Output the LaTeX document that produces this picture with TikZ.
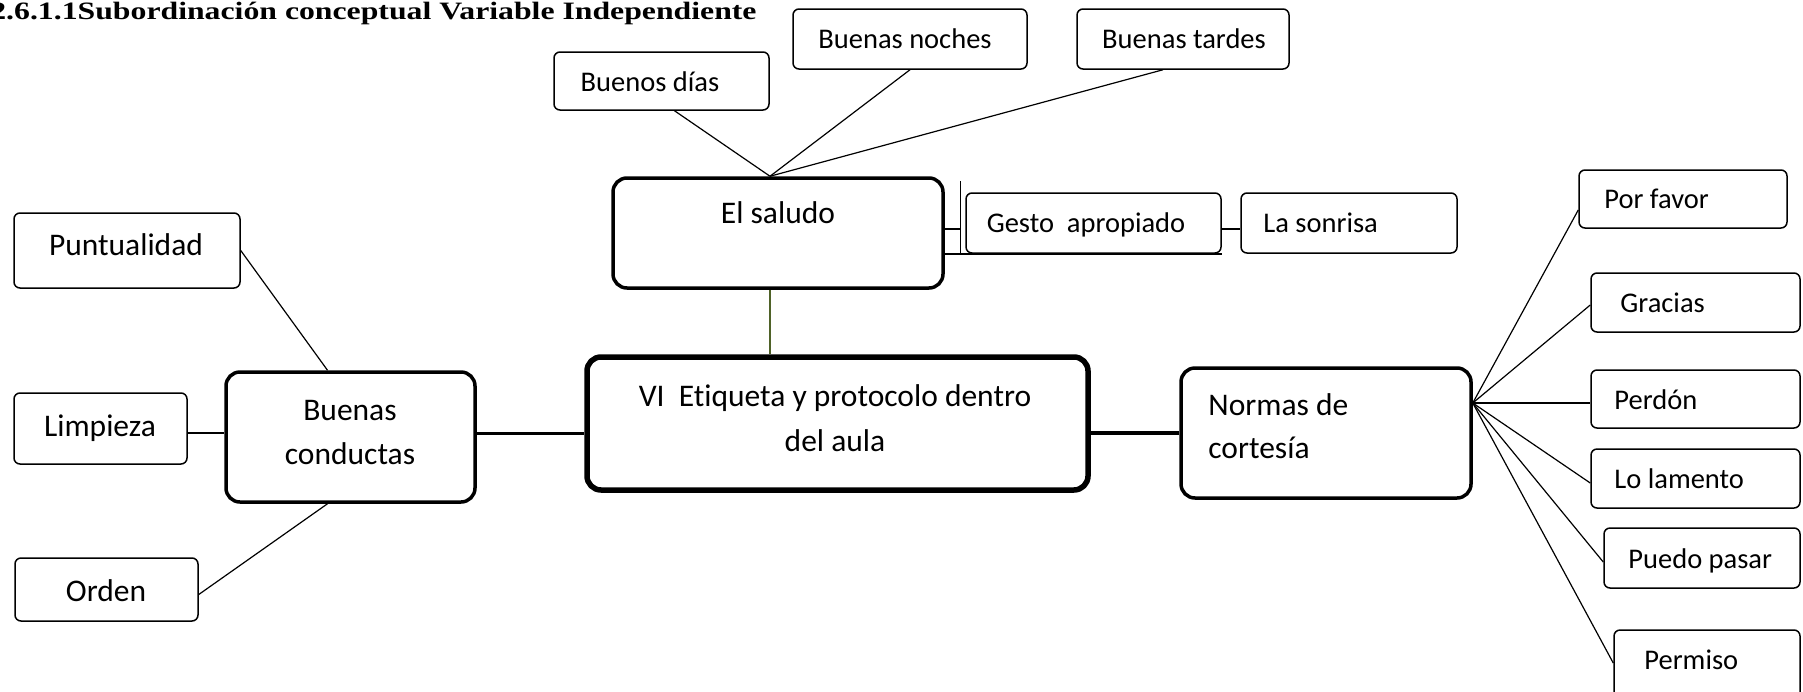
\documentclass[tikz,border=0pt]{standalone}
\usepackage{fontspec}
\usepackage{graphicx}
\setmainfont{Carlito}[RawFeature={-liga}]
\newfontfamily\titlefont{Liberation Serif}
\usetikzlibrary{calc}
\definecolor{olivegreen}{HTML}{4F6228}
\tikzset{
  thinbox/.style={draw=black, line width=0.75pt, rounded corners=3pt, fill=white, inner sep=0pt},
  thickbox/.style={draw=black, line width=1.75pt, rounded corners=7pt, fill=white, inner sep=0pt},
  mainbox/.style={draw=black, line width=2.75pt, rounded corners=7pt, fill=white, inner sep=0pt},
  lbl/.style={inner sep=0pt, anchor=base, font=\fontsize{15.75pt}{19pt}\selectfont},
  lblw/.style={inner sep=0pt, anchor=base west, font=\fontsize{15.75pt}{19pt}\selectfont},
  slbl/.style={inner sep=0pt, anchor=base, font=\fontsize{14.25pt}{17pt}\selectfont},
  slblw/.style={inner sep=0pt, anchor=base west, font=\fontsize{14.25pt}{17pt}\selectfont},
  conn/.style={line width=0.6pt, draw=black},
}
\begin{document}
\begin{tikzpicture}[x=0.5pt, y=-0.5pt]
\fill[white] (0,0) rectangle (1803,691);
\useasboundingbox (0,0) rectangle (1803,691);
\clip (0,0) rectangle (1803,691);

% title
\node[inner sep=0pt, anchor=base east] (title) at (757,19) {\scalebox{1.27}[1]{\titlefont\bfseries\fontsize{12.5pt}{14pt}\selectfont 2.6.1.1Subordinación conceptual Variable Independiente}};

% boxes
\node[thinbox, minimum width=113pt, minimum height=37.5pt] (punt) at (127,250.5) {};
\node[thinbox, minimum width=86.5pt, minimum height=35.5pt] (limp) at (100.5,428.5) {};
\node[thinbox, minimum width=91.5pt, minimum height=31.5pt] (orden) at (106.5,589.5) {};
\node[thickbox, minimum width=124.5pt, minimum height=65pt] (bc) at (350.5,437) {};
\node[mainbox, minimum width=250.5pt, minimum height=66.5pt] (central) at (837.5,423.5) {};
\node[thickbox, minimum width=165pt, minimum height=55pt] (saludo) at (778,233) {};
\node[thickbox, minimum width=145pt, minimum height=65pt] (normas) at (1326,433) {};
\node[thinbox, minimum width=107.5pt, minimum height=29pt] (bdias) at (661.5,81) {};
\node[thinbox, minimum width=117pt, minimum height=30pt] (bnoches) at (910,39) {};
\node[thinbox, minimum width=106pt, minimum height=30pt] (btardes) at (1183,39) {};
\node[thinbox, minimum width=127.5pt, minimum height=30pt] (gesto) at (1093.5,223) {};
\node[thinbox, minimum width=108pt, minimum height=30pt] (sonrisa) at (1349,223) {};
\node[thinbox, minimum width=104pt, minimum height=29pt] (porfavor) at (1683,199) {};
\node[thinbox, minimum width=104.5pt, minimum height=29.5pt] (gracias) at (1695.5,302.5) {};
\node[thinbox, minimum width=104.5pt, minimum height=29pt] (perdon) at (1695.5,399) {};
\node[thinbox, minimum width=104.5pt, minimum height=29.5pt] (lolam) at (1695.5,478.5) {};
\node[thinbox, minimum width=98pt, minimum height=30pt] (puedo) at (1702,558) {};
\node[thinbox, minimum width=93pt, minimum height=35pt] (permiso) at (1707,665) {};

% connectors
\draw[conn] (punt.east) -- ($(bc.north)+(-23,0)$);
\coordinate (limpE) at ($(limp.east)+(0,4.5)$);
\draw[conn] (limpE) -- (limpE -| bc.west);
\draw[conn] ($(orden.east)+(0,5)$) -- ($(bc.south)+(-23,0)$);
\coordinate (bcE) at ($(bc.east)+(0,-4)$);
\draw[line width=1.5pt] (bcE) -- (bcE -| central.west);
\draw[line width=2pt] (normas.west) -- (normas.west -| central.east);
\coordinate (salS) at ($(saludo.south)+(-8,0)$);
\draw[olivegreen, line width=1.3pt] (salS) -- (salS |- central.north);
\coordinate (apex) at ($(saludo.north)+(-8,0)$);
\draw[conn] (apex) -- ($(bdias.south)+(13,0)$);
\draw[conn] (apex) -- (bnoches.south);
\draw[conn] (apex) -- ($(btardes.south)+(-20,0)$);
\coordinate (jb) at ($(gesto.south west)+(-5,0)$);
\coordinate (jt) at ($(gesto.north west)+(-5,-11)$);
\draw[conn] (jt) -- (jb);
\coordinate (salE) at ($(saludo.east)+(0,-4)$);
\draw[conn] (salE) -- (salE -| jb);
\draw[line width=0.9pt] (saludo.east |- gesto.south) -- (gesto.south east);
\coordinate (gE) at ($(gesto.east)+(0,6)$);
\draw[conn] (gE) -- (gE -| sonrisa.west);
\coordinate (fan) at ($(normas.east)+(0,-30)$);
\draw[conn] (fan) -- ($(porfavor.west)+(0,11)$);
\draw[conn] (fan) -- ($(gracias.west)+(0,2.5)$);
\draw[conn] (fan) -- (fan -| perdon.west);
\draw[conn] (fan) -- ($(lolam.west)+(0,4.5)$);
\draw[conn] (fan) -- ($(puedo.west)+(0,4)$);
\draw[conn] (fan) -- ($(permiso.west)+(0,-2)$);

% texts
\node[lbl] (tPunt) at (126,255) {Puntualidad};
\node[lbl] (tLimp) at (100,436) {Limpieza};
\node[lbl] (tOrden) at (106,601) {Orden};
\node[lbl] (tBc1) at (350,420) {Buenas};
\node[lbl] (tBc2) at (350,464) {conductas};
\node[lbl] (tCen1) at (835,406) {VI\ \ Etiqueta y protocolo dentro};
\node[lbl] (tCen2) at (835,451) {del aula};
\node[lbl] (tSal) at (778,223) {El saludo};
\node[lblw] (tNor1) at (1208,415) {Normas de};
\node[lblw] (tNor2) at (1208,458) {cortesía};
\node[slbl] (tBd) at (650,91) {Buenos días};
\node[slbl] (tBn) at (905,48) {Buenas noches};
\node[slbl] (tBt) at (1184,48) {Buenas tardes};
\node[slbl] (tGes) at (1086,232) {Gesto\ \ apropiado};
\node[slblw] (tSon) at (1263,232) {La sonrisa};
\node[slblw] (tPor) at (1604,208) {Por favor};
\node[slblw] (tGra) at (1620,312) {Gracias};
\node[slblw] (tPer) at (1614,409) {Perdón};
\node[slblw] (tLol) at (1614,488) {Lo lamento};
\node[slblw] (tPue) at (1628,568) {Puedo pasar};
\node[slblw] (tPerm) at (1644,669) {Permiso};
\end{tikzpicture}
\end{document}
